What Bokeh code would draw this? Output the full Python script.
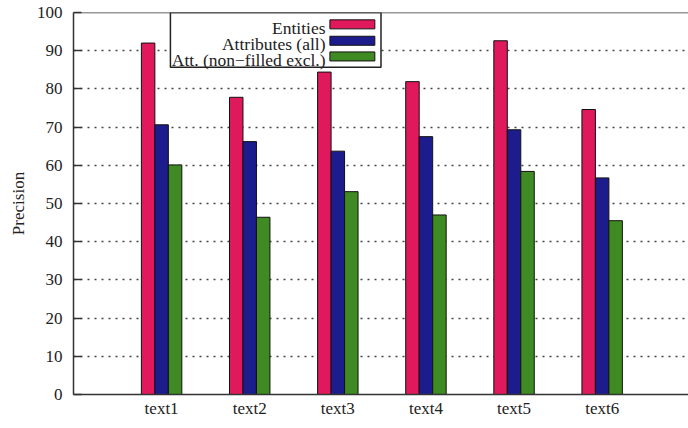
import numpy as np
from bokeh.plotting import figure
from bokeh.models import FixedTicker, Span, ColumnDataSource
from bokeh.core.properties import value
from bokeh.embed import file_html
from bokeh.resources import INLINE

categories = ["text1", "text2", "text3", "text4", "text5", "text6"]
entities = [92.0, 77.8, 84.4, 81.9, 92.6, 74.6]
attributes_all = [70.6, 66.2, 63.7, 67.5, 69.3, 56.7]
att_nonfilled = [60.1, 46.4, 53.1, 47.0, 58.4, 45.5]
series_names = ["Entities", "Attributes (all)", "Att. (non\u2212filled excl.)"]
y_ticks = [0, 10, 20, 30, 40, 50, 60, 70, 80, 90, 100]

colors = ["#e0185c", "#1c1c8c", "#3f8a22"]
FONT = "Liberation Serif"
TXT = "#222222"

pos = np.arange(1, len(categories) + 1)
src = ColumnDataSource(dict(x=pos, e=entities, a=attributes_all, n=att_nonfilled))

p = figure(width=688, height=428, x_range=(0, 6.98), y_range=(0, 100),
           output_backend="svg", toolbar_location=None,
           min_border_left=73, min_border_right=0, min_border_top=12, min_border_bottom=34)
p.outline_line_color = None
p.background_fill_color = "white"
p.border_fill_color = "white"

bw = 0.153
for col, off, c in zip(["e", "a", "n"], [-bw, 0.0, bw], colors):
    p.vbar(x=pos + off, top=src.data[col], bottom=0, width=bw,
           fill_color=c, line_color="#111111", line_width=1)

# axes
p.xaxis.ticker = FixedTicker(ticks=list(pos))
p.xaxis.major_label_overrides = {int(i): c for i, c in zip(pos, categories)}
p.xaxis.major_tick_in = 0
p.xaxis.major_tick_out = 0
p.xaxis.minor_tick_line_color = None
p.xaxis.major_label_standoff = 4
p.xaxis.axis_line_color = "#333333"
p.xaxis.axis_line_width = 1.5

p.yaxis.ticker = FixedTicker(ticks=y_ticks)
p.yaxis.major_tick_in = 8
p.yaxis.major_tick_out = 0
p.yaxis.major_tick_line_color = "#333333"
p.yaxis.major_tick_line_width = 1.5
p.yaxis.minor_tick_line_color = None
p.yaxis.major_label_standoff = 11
p.yaxis.axis_line_color = "#333333"
p.yaxis.axis_line_width = 1.5
p.yaxis.axis_label = "Precision"
p.yaxis.axis_label_standoff = 6
p.yaxis.axis_label_text_font_style = "normal"

for ax in (p.xaxis, p.yaxis):
    ax.major_label_text_font = FONT
    ax.major_label_text_font_size = "17px"
    ax.major_label_text_color = TXT
    ax.axis_label_text_font = FONT
    ax.axis_label_text_font_size = "17px"
    ax.axis_label_text_color = TXT

p.xgrid.grid_line_color = None
p.ygrid.ticker = FixedTicker(ticks=y_ticks[1:-1])
p.ygrid.grid_line_color = "#444444"
p.ygrid.grid_line_dash = "2 5"
p.ygrid.grid_line_width = 1.5

p.add_layout(Span(location=100, dimension="width", line_color="#333333", line_width=1.5))

# legend (box with right-aligned labels and swatches on the right)
p.quad(left=[1.10], right=[3.49], bottom=[85.7], top=[100], fill_color="white",
       line_color="#222222", line_width=1.5)
row_text_y = [96.0, 91.7, 87.5]
row_sw_y = [96.9, 92.6, 88.5]
p.text(x=[2.86] * 3, y=row_text_y, text=series_names, text_align="right",
       text_baseline="alphabetic", text_font=value(FONT), text_font_size="17.5px",
       text_color=TXT)
p.rect(x=[3.165] * 3, y=row_sw_y, width=0.51, height=2.36, fill_color=colors,
       line_color="#111111", line_width=1)

open("out.html", "w").write(file_html(p, INLINE))
